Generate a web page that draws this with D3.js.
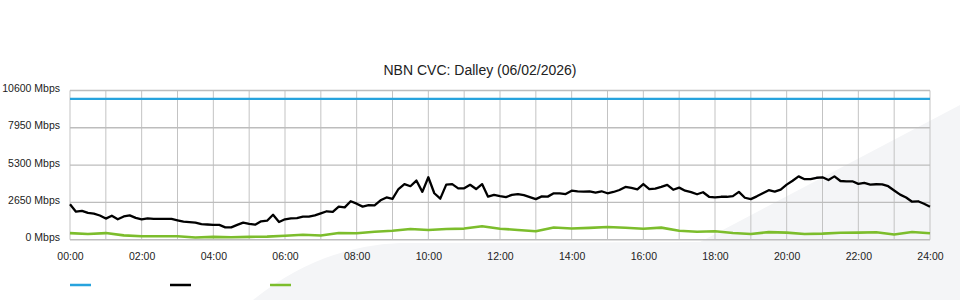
<!DOCTYPE html>
<html>
<head>
<meta charset="utf-8">
<script src="https://cdn.jsdelivr.net/npm/d3@7"></script>
<style>
  body { margin: 0; background: #fff; }
  svg { display: block; font-family: "Liberation Sans", Arial, sans-serif; }
</style>
</head>
<body>
<div id="chart"></div>
<script>

const chartTitle = "NBN CVC: Dalley (06/02/2026)";
const yTicks = [0, 2650, 5300, 7950, 10600];
const xTickHours = [0, 2, 4, 6, 8, 10, 12, 14, 16, 18, 20, 22, 24];

// capacity line (blue) - flat all day
const capacityHours = [0, 24];
const capacityMbps = [10000, 10000];

// black series, one value every 10 minutes
const blackStepMin = 10;
const blackMbps = [
  2515, 1990, 2050, 1900, 1850, 1720, 1500, 1700, 1450, 1650, 1730, 1550,
  1450, 1520, 1480, 1480, 1480, 1480, 1380, 1280, 1250, 1220, 1100, 1080,
  1050, 1050, 880, 880, 1050, 1210, 1120, 1065, 1305, 1350, 1775, 1260,
  1450, 1520, 1540, 1635, 1635, 1730, 1875, 2020, 1970, 2345, 2300, 2730,
  2560, 2350, 2450, 2445, 2800, 3000, 2900, 3600, 3950, 3800, 4200, 3400,
  4435, 3300, 2915, 3910, 3950, 3650, 3650, 3900, 3600, 3950, 3055, 3180,
  3100, 3030, 3180, 3240, 3170, 3030, 2880, 3080, 3060, 3295, 3295, 3245,
  3480, 3440, 3420, 3440, 3350, 3440, 3300, 3390, 3530, 3750, 3675, 3580,
  3955, 3600, 3625, 3750, 3900, 3550, 3700, 3480, 3380, 3230, 3370, 3050,
  3010, 3050, 3050, 3100, 3400, 2980, 2880, 3080, 3300, 3520, 3420, 3560,
  3910, 4190, 4500, 4300, 4300, 4400, 4435, 4240, 4500, 4170, 4150, 4150,
  3970, 4030, 3920, 3940, 3930, 3800, 3500, 3200, 3000, 2700, 2730, 2550,
  2345
];

// green series, one value every 30 minutes
const greenStepMin = 30;
const greenMbps = [
  470, 400, 470, 310, 250, 240, 240, 160, 200, 170, 200, 220,
  280, 350, 300, 470, 460, 560, 640, 760, 690, 760, 790, 950,
  780, 690, 600, 870, 800, 840, 900, 850, 780, 860, 640, 560,
  595, 480, 410, 540, 500, 400, 430, 490, 500, 530, 370, 545,
  455
];

const legendColours = ["#27a3dd", "#000000", "#7cbd2c"];

const width = 960, height = 300;
const margin = {top: 90.5, right: 30, bottom: 60.3, left: 70};

let svg = d3.select("#chart")
  .append("svg")
    .attr("width", width)
    .attr("height", height);

// light watermark shape in the background
svg.append("path")
  .attr("d", "M253,300 Q320,246 400,243 L700,242 L960,105 L960,300 Z")
  .attr("fill", "#f4f5f7");

let x = d3.scaleLinear().domain([0, 24]).range([margin.left, width - margin.right]);
let y = d3.scaleLinear().domain([0, 10600]).range([height - margin.bottom, margin.top]);

// grid
svg.append("g")
  .selectAll("line")
  .data(d3.range(0, 25))
  .enter()
  .append("line")
    .attr("x1", d => x(d)).attr("x2", d => x(d))
    .attr("y1", y(0)).attr("y2", y(10600))
    .attr("stroke", "#c3c3c3")
    .attr("stroke-width", 1);

svg.append("g")
  .selectAll("line")
  .data(yTicks)
  .enter()
  .append("line")
    .attr("x1", x(0)).attr("x2", x(24))
    .attr("y1", d => y(d)).attr("y2", d => y(d))
    .attr("stroke", "#bdbdbd")
    .attr("stroke-width", 1.4);

// axes labels
let yAxis = svg.append("g")
  .attr("transform", "translate(" + (margin.left - 10) + ",0)")
  .call(d3.axisLeft(y).tickValues(yTicks).tickSize(0).tickFormat(d => d + " Mbps"));
yAxis.select(".domain").remove();
yAxis.selectAll("text")
  .attr("x", 0)
  .attr("dy", "0.1em")
  .style("font-size", "10.5px")
  .style("font-family", "Liberation Sans, Arial, sans-serif")
  .attr("fill", "#222");

let xAxis = svg.append("g")
  .attr("transform", "translate(0," + (y(0) + 10) + ")")
  .call(d3.axisBottom(x).tickValues(xTickHours).tickSize(0)
    .tickFormat(d => String(d).padStart(2, "0") + ":00"));
xAxis.select(".domain").remove();
xAxis.selectAll("text")
  .style("font-size", "10.5px")
  .style("font-family", "Liberation Sans, Arial, sans-serif")
  .attr("fill", "#222");

// title
svg.append("text")
  .attr("x", width / 2)
  .attr("y", 75)
  .attr("text-anchor", "middle")
  .style("font-size", "14px")
  .attr("fill", "#222")
  .text(chartTitle);

// lines
let line = d3.line()
  .x(d => x(d[0]))
  .y(d => y(d[1]));

let capacityData = capacityHours.map((h, i) => [h, capacityMbps[i]]);
let blackData = blackMbps.map((v, i) => [i * blackStepMin / 60, v]);
let greenData = greenMbps.map((v, i) => [i * greenStepMin / 60, v]);

svg.append("path")
  .datum(greenData)
  .attr("d", line)
  .attr("fill", "none")
  .attr("stroke", legendColours[2])
  .attr("stroke-width", 2.6)
  .attr("stroke-linejoin", "round");

svg.append("path")
  .datum(blackData)
  .attr("d", line)
  .attr("fill", "none")
  .attr("stroke", legendColours[1])
  .attr("stroke-width", 2.3)
  .attr("stroke-linejoin", "round");

svg.append("path")
  .datum(capacityData)
  .attr("d", line)
  .attr("fill", "none")
  .attr("stroke", legendColours[0])
  .attr("stroke-width", 2.2);

// legend swatches (no labels shown)
svg.append("g")
  .selectAll("line")
  .data(legendColours)
  .enter()
  .append("line")
    .attr("x1", (d, i) => 70 + i * 100)
    .attr("x2", (d, i) => 91 + i * 100)
    .attr("y1", 285).attr("y2", 285)
    .attr("stroke", d => d)
    .attr("stroke-width", 2.5);
</script>
</body>
</html>
